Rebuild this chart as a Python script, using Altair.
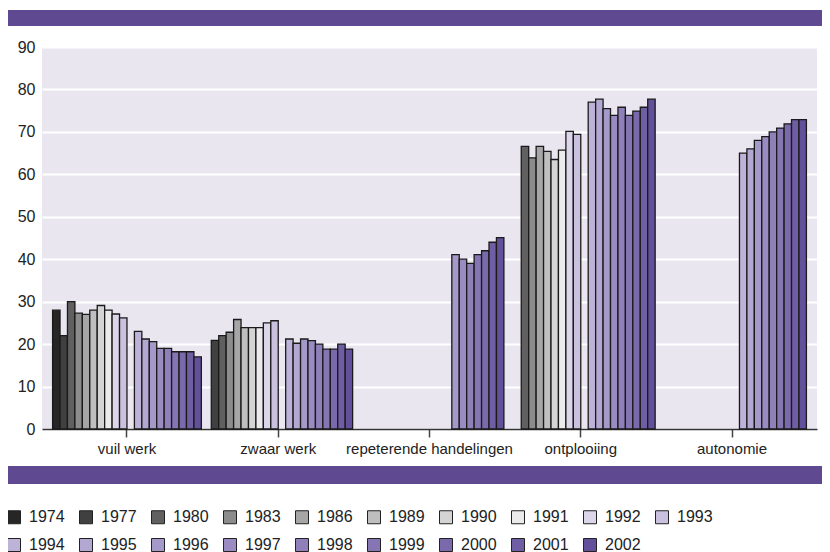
import altair as alt
import pandas as pd

categories = ["vuil werk", "zwaar werk", "repeterende handelingen", "ontplooiing", "autonomie"]
years = ["1974", "1977", "1980", "1983", "1986", "1989", "1990", "1991", "1992", "1993",
         "1994", "1995", "1996", "1997", "1998", "1999", "2000", "2001", "2002"]
slots = years[:10] + ["gap"] + years[10:]

vuil_werk = [28, 22, 30, 27.3, 27, 28, 29.1, 28, 27.1, 26.2,
             23, 21.2, 20.6, 19, 19, 18.2, 18.2, 18.2, 17]
zwaar_werk = [None, 20.9, 22, 22.8, 25.8, 23.9, 23.9, 23.9, 25, 25.5,
              21.2, 20.2, 21.2, 20.8, 20, 18.8, 18.8, 20, 18.8]
repeterend = [None, None, None, None, None, None, None, None, None, None,
              None, None, 41.1, 40, 39, 41.1, 42, 44, 45.1]
ontplooiing = [None, None, 66.6, 63.9, 66.6, 65.4, 63.5, 65.7, 70.1, 69.4,
               77, 77.7, 75.5, 73.9, 75.8, 73.9, 74.9, 75.8, 77.7]
autonomie = [None, None, None, None, None, None, None, None, None, None,
             65, 66, 68, 68.9, 70, 70.9, 71.9, 72.9, 72.9]

colors = ["#262626", "#404040", "#606060", "#8c8c8c", "#a6a6a6", "#bfbfbf", "#d4d4d4",
          "#ebebeb", "#dcd6ea", "#cac1df", "#bdb3d8", "#b3a8d2", "#a599c9", "#9a8cc2",
          "#8f80ba", "#8575b3", "#7a69ab", "#705ea5", "#63509a"]

PURPLE = "#5f4a91"
FONT = "Liberation Sans"

rows = []
for cat, series in zip(categories, [vuil_werk, zwaar_werk, repeterend, ontplooiing, autonomie]):
    for yr, v in zip(years, series):
        if v is not None:
            rows.append({"cat": cat, "year": yr, "value": v})
df = pd.DataFrame(rows)

deco = alt.Data(values=[{"k": 1}])
top_band = alt.Chart(deco).mark_rect(color=PURPLE).encode(
    x=alt.value(-36), x2=alt.value(790), y=alt.value(-37), y2=alt.value(-21))
bottom_band = alt.Chart(deco).mark_rect(color=PURPLE).encode(
    x=alt.value(-36), x2=alt.value(790), y=alt.value(419), y2=alt.value(437))

bars = alt.Chart(df).mark_bar(stroke="#1a1a1a", strokeWidth=1.3).encode(
    x=alt.X("cat:N", sort=categories, title=None,
            scale=alt.Scale(paddingInner=0.0165, paddingOuter=0.07),
            axis=alt.Axis(labelAngle=0, labelFontSize=15, labelFont=FONT, labelColor="#222",
                          ticks=True, tickSize=8, tickColor="#444", tickWidth=1.5,
                          bandPosition=0.5, domainColor="#333", domainWidth=1.5,
                          labelPadding=4, grid=False)),
    xOffset=alt.XOffset("year:N", scale=alt.Scale(domain=slots, paddingInner=0, paddingOuter=0)),
    y=alt.Y("value:Q", title=None,
            scale=alt.Scale(domain=[0, 90], nice=False),
            axis=alt.Axis(values=list(range(0, 91, 10)), labelFontSize=16, labelFont=FONT,
                          labelColor="#222", ticks=False, domain=False, labelPadding=7,
                          grid=True, gridColor="white", gridWidth=2)),
    color=alt.Color("year:N", scale=alt.Scale(domain=years, range=colors),
                    legend=alt.Legend(title=None, orient="none", legendX=-36, legendY=462,
                                      columns=10, direction="horizontal",
                                      symbolType="square", symbolSize=169,
                                      symbolStrokeColor="#222", symbolStrokeWidth=1,
                                      symbolOpacity=1,
                                      labelFontSize=16, labelFont=FONT, labelColor="#222",
                                      labelOffset=7, columnPadding=12, rowPadding=10,
                                      padding=0)),
)

chart = alt.layer(top_band, bottom_band, bars).properties(
    width=775, height=382,
    autosize=alt.AutoSizeParams(type="none"),
    padding={"left": 34, "top": 39, "right": 5, "bottom": 123},
    background="white",
).configure_view(fill="#e9e6f0", stroke=None)

chart.save("out.html", embed_options={"renderer": "svg", "actions": False})
